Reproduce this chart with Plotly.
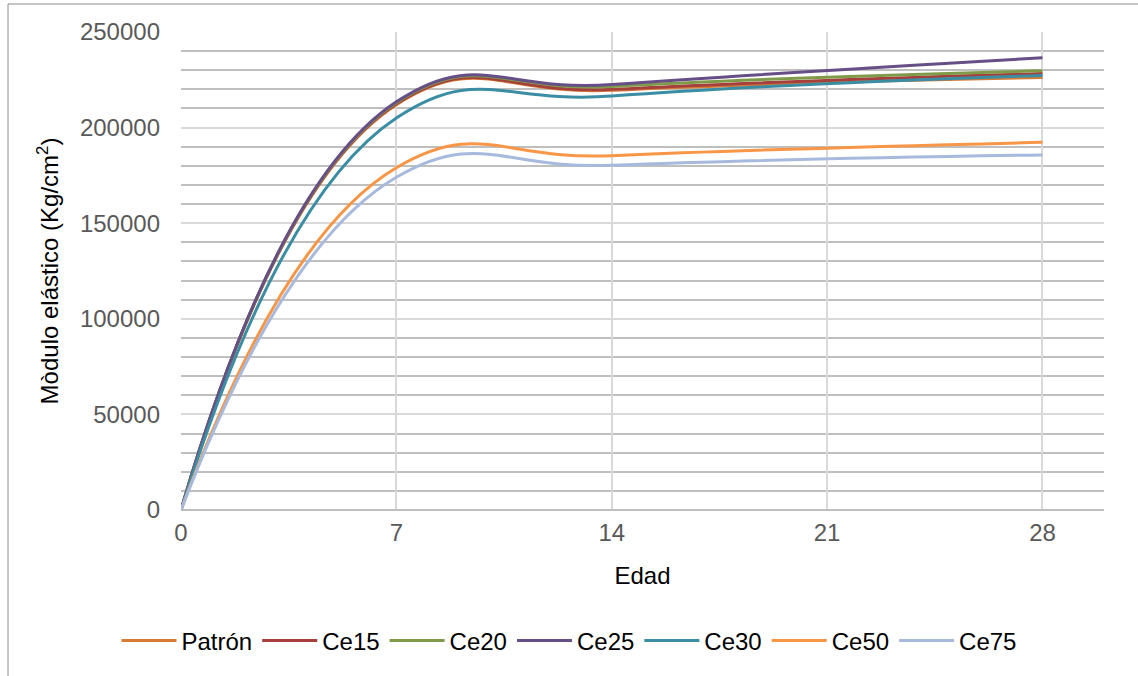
import plotly.graph_objects as go

edad = [0, 7, 14, 28]
series_names = ["Patrón", "Ce15", "Ce20", "Ce25", "Ce30", "Ce50", "Ce75"]
patron = [0, 212000, 219500, 226200]
ce15 = [0, 212500, 220000, 228300]
ce20 = [0, 213000, 221500, 229700]
ce25 = [0, 213500, 222500, 236500]
ce30 = [0, 205000, 216500, 227300]
ce50 = [0, 179000, 185300, 192300]
ce75 = [0, 174000, 180300, 185700]
values = [patron, ce15, ce20, ce25, ce30, ce50, ce75]
colors = ["#D57B36", "#A5403D", "#7F9A48", "#664F86", "#3A8DA3", "#F79646", "#A7B9DC"]
x_ticks = [0, 7, 14, 21, 28]

font = "Liberation Sans, Arial, sans-serif"

fig = go.Figure()
for name, vals, col in zip(series_names, values, colors):
    fig.add_trace(go.Scatter(
        x=edad, y=vals, name=name, mode="lines",
        line=dict(color=col, width=3, shape="spline", smoothing=1.3),
    ))

fig.update_layout(
    width=1138, height=676,
    margin=dict(l=181, r=34, t=32, b=166),
    paper_bgcolor="white", plot_bgcolor="white",
    font=dict(family=font, size=24, color="#595959"),
    showlegend=True,
    legend=dict(orientation="h", xref="container", yref="container",
                x=0.5, xanchor="center", y=0.052, yanchor="middle",
                font=dict(size=24, color="black"), itemwidth=55,
                tracegroupgap=0),
    shapes=[dict(type="rect", xref="paper", yref="paper",
                 x0=(8 - 181) / 923, x1=(1145 - 181) / 923,
                 y0=(510 - 690) / 478, y1=(510 - 4) / 478,
                 line=dict(color="#8c8c8c", width=1), fillcolor="rgba(0,0,0,0)",
                 layer="below")],
)
fig.update_xaxes(
    range=[0, 30], tickvals=x_ticks, showgrid=True, gridcolor="#d9d9d9", gridwidth=2,
    zeroline=False, showline=False, ticks="", ticklabelstandoff=6,
    title=dict(text="Edad", font=dict(size=24, color="black"), standoff=22),
    tickfont=dict(size=24, color="#595959"),
)
fig.update_yaxes(
    range=[0, 250000], dtick=50000, tickformat="d", showgrid=True,
    gridcolor="#d9d9d9", gridwidth=1.5,
    minor=dict(dtick=10000, showgrid=True, gridcolor="#bfbfbf", gridwidth=1.5),
    zeroline=True, zerolinecolor="#bfbfbf", zerolinewidth=1.5,
    showline=False, ticks="", ticklabelstandoff=20,
    title=dict(text="Mòdulo elástico (Kg/cm<sup>2</sup>)", font=dict(size=24, color="black"), standoff=14),
    tickfont=dict(size=24, color="#595959"),
)

fig.write_html("out.html")
